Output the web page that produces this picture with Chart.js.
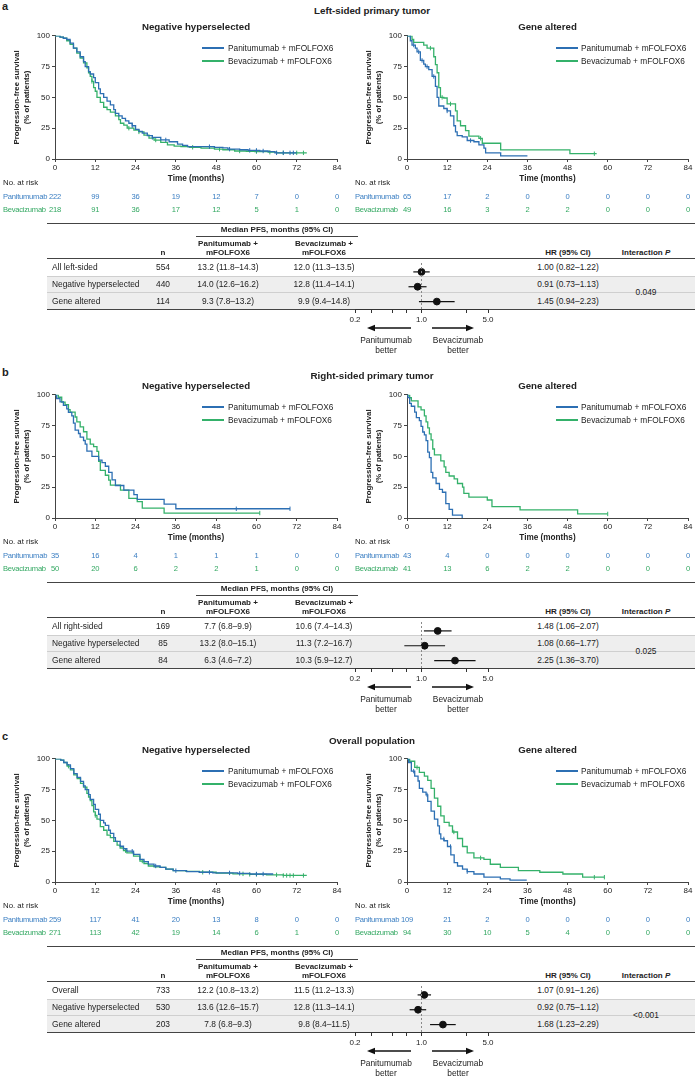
<!DOCTYPE html>
<html>
<head>
<meta charset="utf-8">
<script src="https://cdn.jsdelivr.net/npm/chart.js@4.4.1/dist/chart.umd.min.js"></script>
<style>
  body { margin: 0; background: #fff; }
  #fig { position: relative; width: 699px; height: 1086px; overflow: hidden; font-family: "Liberation Sans", Arial, sans-serif; color: #222; }
  #fig canvas { position: absolute; }
  .t { position: absolute; white-space: nowrap; font-size: 8.4px; line-height: 1; }
  .r { position: absolute; }
  .risk { letter-spacing: -0.25px; }
</style>
</head>
<body>
<div id="fig"></div>
<script>
// ---------- data ----------
const timeTicks = [0, 12, 24, 36, 48, 60, 72, 84];
const survTicks = [0, 25, 50, 75, 100];
const forestTicks = [0.2, 0.3, 0.5, 0.7, 1, 3, 5];
const forestTickLabels = ['0.2', '', '', '', '1.0', '', '5.0'];
const legendLabels = ['Panitumumab + mFOLFOX6', 'Bevacizumab + mFOLFOX6'];
const riskLabels = ['Panitumumab', 'Bevacizumab'];

// a - left-sided, negative hyperselected
const aNegPanT = [0, 1.5, 2.5, 3.5, 4.5, 5.5, 6.5, 7.5, 8.5, 9, 10, 10.5, 11.5, 12, 13, 13.5, 14.5, 15.5, 16.5, 17.5, 18, 19, 20, 21, 22, 23, 24, 25, 26, 27.5, 29, 31.5, 34, 36.5, 38, 39.5, 47.5, 50, 51.5, 55, 57.5, 61, 63.5, 65.5, 72];
const aNegPanS = [100, 99, 98, 97, 94, 90, 87, 83, 79, 75, 71, 69, 66, 62, 57, 53, 50, 47, 44, 40, 37, 35, 33, 31, 29, 27, 24, 22.5, 21, 19, 17.5, 15.5, 14, 12, 11, 10, 9.5, 9, 8, 7.5, 7, 6.5, 6, 5, 5];
const aNegPanC = [23, 29, 33, 46, 52, 58, 60, 62, 66, 68, 70, 71];
const aNegBevT = [0, 1.5, 2.5, 3.5, 4.5, 5.5, 6.5, 7.5, 8.5, 9.5, 10, 10.5, 11, 11.5, 12, 12.5, 13.5, 14.5, 15.5, 16.5, 18, 19, 19.5, 20.5, 21.5, 23.5, 25, 26.5, 28, 29.5, 31.5, 33.5, 35.5, 37.5, 40, 43.5, 47.5, 50, 53.5, 57, 59.5, 63.5, 66, 75];
const aNegBevS = [100, 99, 98, 96, 93, 90, 86, 82, 78, 74, 70, 67, 63, 58, 55, 50, 46, 42, 40, 38, 35, 32, 29, 27.5, 25, 23.4, 22, 19.4, 17, 15.4, 13.5, 11.4, 10.5, 10, 9.5, 8.8, 8, 7.5, 6.5, 6.2, 6, 5.5, 5, 5];
const aNegBevC = [11, 22, 25, 30, 41, 49, 55, 60, 64, 68, 72, 74];
const aNegPanRisk = [222, 99, 36, 19, 12, 7, 0, 0];
const aNegBevRisk = [218, 91, 36, 17, 12, 5, 1, 0];

// a - left-sided, gene altered
const aGenPanT = [0, 1, 1.5, 2.5, 3, 4, 5, 5.5, 6.5, 7.5, 8.5, 9, 9.5, 11, 12, 13, 14, 14.5, 15, 16.5, 18, 20, 21.5, 23, 23.5, 28, 36];
const aGenPanS = [100, 96, 92.5, 90, 87, 80, 77, 75, 72.5, 67, 59, 50, 43, 41, 39, 35, 27, 22, 19, 18, 15, 14, 11.4, 8.8, 5, 2.5, 2.5];
const aGenPanC = [2, 3.5, 4.5, 6, 8, 12, 19];
const aGenBevT = [0, 1.5, 2, 5, 6, 8, 8.5, 9, 9.5, 10, 11, 12, 14.5, 15, 16, 17.5, 18.5, 21.5, 22.5, 28, 48.7, 56.7];
const aGenBevS = [100, 97, 94.7, 92.5, 90, 83, 76.6, 70, 58, 50, 49.5, 44.7, 39, 31, 27, 23, 18.6, 16.8, 12.8, 7.4, 4.3, 4.3];
const aGenBevC = [1, 7, 10.5, 13, 22, 56];
const aGenPanRisk = [65, 17, 2, 0, 0, 0, 0, 0];
const aGenBevRisk = [49, 16, 3, 2, 2, 0, 0, 0];

// a - forest table
const aRows = ['All left-sided', 'Negative hyperselected', 'Gene altered'];
const aN = [554, 440, 114];
const aPanMed = ['13.2 (11.8–14.3)', '14.0 (12.6–16.2)', '9.3 (7.8–13.2)'];
const aBevMed = ['12.0 (11.3–13.5)', '12.8 (11.4–14.1)', '9.9 (9.4–14.8)'];
const aHR = [1.00, 0.91, 1.45];
const aLo = [0.82, 0.73, 0.94];
const aHi = [1.22, 1.13, 2.23];
const aP = '0.049';

// b - right-sided, negative hyperselected
const bNegPanT = [0, 0.5, 1.5, 2.5, 3.5, 4, 5, 5.5, 6, 7, 7.5, 8.5, 9, 9.5, 11, 13, 14, 15, 16, 17, 18, 20.5, 23.5, 24.5, 32.5, 36, 70];
const bNegPanS = [100, 97, 94.3, 91.4, 88.6, 85.7, 82.9, 77, 71.4, 68.6, 65.7, 62.9, 60, 54.3, 50, 47, 45, 42, 37, 31, 26.4, 22.6, 18.9, 15.1, 11.3, 7.5, 7.5];
const bNegPanC = [54, 70];
const bNegBevT = [0, 1, 2, 3, 4, 4.5, 6, 6.5, 7.5, 8.5, 9.5, 10.5, 11.5, 12.5, 13, 13.5, 15, 16, 16.5, 19.5, 22, 24.5, 26, 32.5, 61];
const bNegBevS = [100, 98, 94, 92, 88, 86, 82, 78, 74, 70, 64, 60, 58, 54, 46, 38.7, 34.7, 30.7, 26.7, 22.7, 16, 13.3, 8, 4, 4];
const bNegBevC = [61];
const bNegPanRisk = [35, 16, 4, 1, 1, 1, 0, 0];
const bNegBevRisk = [50, 20, 6, 2, 2, 1, 0, 0];

// b - right-sided, gene altered
const bGenPanT = [0, 0.3, 0.8, 1.3, 2.3, 2.8, 3.7, 4.2, 4.7, 5.2, 5.7, 6.2, 6.7, 7.2, 7.7, 8.7, 9.7, 10.6, 11.6, 12.6, 13.6, 16.5];
const bGenPanS = [100, 97.7, 93, 90.7, 86, 81.4, 79, 74.4, 69.8, 67.4, 62.8, 53.5, 49, 37, 32.6, 28, 23.3, 20.9, 11.6, 7, 2.3, 0];
const bGenPanC = [];
const bGenBevT = [0, 0.8, 1.3, 3.3, 4.2, 5.2, 5.7, 6.2, 6.7, 7.2, 7.7, 8.2, 10.1, 11.1, 11.6, 12.6, 14.1, 15.1, 16.6, 17, 18.5, 24, 25.4, 33.8, 51, 60];
const bGenBevS = [100, 97.6, 95, 90.2, 87.8, 82.9, 78, 73.2, 68.3, 63.4, 56, 51.2, 46.3, 41.5, 37, 34.1, 31.7, 28, 25, 20, 17, 14.6, 9.3, 6.6, 3.3, 3.3];
const bGenBevC = [60];
const bGenPanRisk = [43, 4, 0, 0, 0, 0, 0, 0];
const bGenBevRisk = [41, 13, 6, 2, 2, 0, 0, 0];

// b - forest table
const bRows = ['All right-sided', 'Negative hyperselected', 'Gene altered'];
const bN = [169, 85, 84];
const bPanMed = ['7.7 (6.8–9.9)', '13.2 (8.0–15.1)', '6.3 (4.6–7.2)'];
const bBevMed = ['10.6 (7.4–14.3)', '11.3 (7.2–16.7)', '10.3 (5.9–12.7)'];
const bHR = [1.48, 1.08, 2.25];
const bLo = [1.06, 0.66, 1.36];
const bHi = [2.07, 1.77, 3.70];
const bP = '0.025';

// c - overall, negative hyperselected
const cNegPanT = [0, 1.7, 2.6, 3.6, 4.6, 5.6, 6.6, 7.6, 8.5, 9, 10, 10.5, 11.5, 12, 13, 13.5, 14.5, 15, 16, 16.5, 17.5, 18, 19.4, 20.4, 21.4, 23.4, 25.3, 26.5, 27.8, 29.5, 31.3, 33, 35.2, 39.2, 43, 47, 54.4, 58, 65];
const cNegPanS = [100, 99, 97, 95, 92, 88, 85, 81.6, 78, 75, 71, 67, 63, 59, 55, 50, 48, 46, 42, 39.5, 36, 33, 29, 27, 25, 22.4, 18.4, 16.5, 14.5, 13, 11.8, 10.5, 9.2, 8.4, 7.9, 7.4, 7, 6.5, 6.5];
const cNegPanC = [23, 30, 36, 46, 52, 55, 60, 62];
const cNegBevT = [0, 1.7, 2.6, 3.6, 4.6, 5.6, 6.6, 7.6, 8.5, 9.5, 10, 10.5, 11, 11.5, 12, 12.5, 13.5, 14.5, 15.5, 16.5, 17.5, 18.5, 19.4, 20.4, 21.4, 23.4, 25.3, 26.5, 27.8, 29.5, 31.3, 33, 35.2, 39, 43, 48, 53, 58, 63, 68, 75];
const cNegBevS = [100, 99, 97, 94, 91, 87, 84, 80, 77, 72, 69, 66, 62, 57, 54, 51, 45, 42, 38, 36, 33, 30, 27.6, 25.5, 23.7, 21, 17, 15, 13, 12.3, 11.8, 10.5, 9.2, 8.6, 7.9, 7.2, 6.6, 6.2, 5.8, 5.3, 5.3];
const cNegBevC = [4, 12, 21, 26, 44, 56, 58, 60, 66, 68, 69, 70, 71, 74];
const cNegPanRisk = [259, 117, 41, 20, 13, 8, 0, 0];
const cNegBevRisk = [271, 113, 42, 19, 14, 6, 1, 0];

// c - overall, gene altered
const cGenPanT = [0, 0.5, 1.3, 2.3, 3.3, 3.7, 4.7, 5.7, 6.2, 7.2, 8.2, 9.2, 9.7, 10.1, 11.1, 12.1, 13.1, 14.1, 15.1, 16.6, 18, 20, 23, 27.9, 30.8, 35.8];
const cGenPanS = [100, 97, 90, 86, 82, 76, 73, 70.7, 65.4, 57.6, 51, 45.5, 39, 35, 33.5, 28.8, 22, 15.7, 13, 10.5, 8.4, 6.5, 3.9, 2.6, 1.6, 1.6];
const cGenPanC = [2, 6, 11, 13, 18];
const cGenBevT = [0, 0.8, 2.3, 3.7, 5.2, 6.2, 7.2, 8.2, 9.2, 10.1, 11.1, 12.6, 13.6, 15.1, 16.6, 18, 20, 23, 24.9, 27.9, 33.3, 39.7, 46.6, 52.5, 59];
const cGenBevS = [100, 98, 93, 89, 86, 82.5, 76, 68, 61.5, 53.7, 48.4, 45.5, 40.6, 35.3, 28.8, 23.6, 19.6, 18.3, 14.4, 11.8, 9.2, 7.9, 6.5, 3.9, 3.9];
const cGenBevC = [3, 14, 22, 56, 59];
const cGenPanRisk = [109, 21, 2, 0, 0, 0, 0, 0];
const cGenBevRisk = [94, 30, 10, 5, 4, 0, 0, 0];

// c - forest table
const cRows = ['Overall', 'Negative hyperselected', 'Gene altered'];
const cN = [733, 530, 203];
const cPanMed = ['12.2 (10.8–13.2)', '13.6 (12.6–15.7)', '7.8 (6.8–9.3)'];
const cBevMed = ['11.5 (11.2–13.3)', '12.8 (11.3–14.1)', '9.8 (8.4–11.5)'];
const cHR = [1.07, 0.92, 1.68];
const cLo = [0.91, 0.75, 1.23];
const cHi = [1.26, 1.12, 2.29];
const cP = '<0.001';

// ---------- drawing ----------
const BLUE = '#2c6fb3';
const GREEN = '#34b16a';
const BLUE_TXT = '#3a7ec2';
const GREEN_TXT = '#33a862';
const AXIS = '#444';
const fig = document.getElementById('fig');

function txt(x, y, s, o = {}) {
  const d = document.createElement('div');
  d.className = 't' + (o.cls ? ' ' + o.cls : '');
  d.innerHTML = s;
  const al = o.align || 'left';
  const tx = al === 'center' ? '-50%' : al === 'right' ? '-100%' : '0';
  d.style.left = x + 'px';
  d.style.top = y + 'px';
  d.style.transform = `translate(${tx}, -50%)`;
  if (o.size) d.style.fontSize = o.size + 'px';
  if (o.bold) d.style.fontWeight = 'bold';
  if (o.color) d.style.color = o.color;
  fig.appendChild(d);
  return d;
}

function rect(x, y, w, h, bg) {
  const d = document.createElement('div');
  d.className = 'r';
  Object.assign(d.style, { left: x + 'px', top: y + 'px', width: w + 'px', height: h + 'px', background: bg });
  fig.appendChild(d);
}

function survAt(T, S, t) {
  let v = S[0];
  for (let i = 0; i < T.length; i++) if (T[i] <= t) v = S[i];
  return v;
}

function kmChart(left, width, top, title, pan, bev) {
  const c = document.createElement('canvas');
  c.width = width;
  c.height = 155;
  c.style.left = left + 'px';
  c.style.top = (top - 5) + 'px';
  fig.appendChild(c);

  const datasets = [];
  [[pan, BLUE], [bev, GREEN]].forEach(([cv, col]) => {
    datasets.push({
      type: 'line',
      data: cv.t.map((t, i) => ({ x: t, y: cv.s[i] })),
      borderColor: col, borderWidth: 1.3, stepped: true, pointRadius: 0, fill: false
    });
    datasets.push({
      type: 'scatter',
      data: cv.c.map(t => ({ x: t, y: survAt(cv.t, cv.s, t) })),
      pointStyle: 'line', rotation: 90, pointRadius: 2.2, borderColor: col, borderWidth: 1
    });
  });

  const chart = new Chart(c, {
    type: 'scatter',
    data: { datasets },
    options: {
      responsive: false, animation: false, devicePixelRatio: 1,
      layout: { padding: { top: 5, right: 8, left: 0, bottom: 0 } },
      plugins: { legend: { display: false }, tooltip: { enabled: false } },
      scales: {
        x: {
          type: 'linear', min: 0, max: 84,
          afterBuildTicks: s => { s.ticks = timeTicks.map(v => ({ value: v })); },
          afterFit: s => { s.height = 25; },
          grid: { drawOnChartArea: false, tickLength: 3, color: AXIS },
          border: { color: AXIS },
          ticks: { font: { size: 8, family: 'Liberation Sans' }, color: '#222', padding: 1, maxRotation: 0, autoSkip: false },
          title: { display: true, text: 'Time (months)', color: '#222', padding: 0, font: { size: 8.2, weight: 'bold', family: 'Liberation Sans', lineHeight: 1.2 } }
        },
        y: {
          min: 0, max: 100,
          afterBuildTicks: s => { s.ticks = survTicks.map(v => ({ value: v })); },
          afterFit: s => { s.width = 55; },
          grid: { drawOnChartArea: false, tickLength: 3, color: AXIS },
          border: { color: AXIS },
          ticks: { font: { size: 8, family: 'Liberation Sans' }, color: '#222', padding: 2 },
          title: { display: true, text: ['Progression-free survival', '(% of patients)'], color: '#222', padding: { top: 12, bottom: 0 }, font: { size: 7.8, weight: 'bold', family: 'Liberation Sans', lineHeight: 1.3 } }
        }
      }
    }
  });

  const xs = chart.scales.x;
  const plotMid = left + (xs.left + xs.right) / 2;
  txt(plotMid, top - 7, title, { align: 'center', bold: true, size: 9.7 });
  return chart;
}

function legend(lineX, textX, top) {
  [BLUE, GREEN].forEach((col, i) => {
    const y = top + 14 + i * 13;
    rect(lineX, y - 0.7, 22, 1.4, col);
    txt(textX, y, legendLabels[i], { size: 8.3 });
  });
}

function atRisk(chart, canvasLeft, labelX, B, panRisk, bevRisk) {
  txt(labelX, B + 24, 'No. at risk', { size: 7.8 });
  [[panRisk, BLUE_TXT], [bevRisk, GREEN_TXT]].forEach(([vals, col], k) => {
    const y = B + 38 + k * 13;
    txt(labelX, y, riskLabels[k], { size: 7.6, color: col, cls: 'risk' });
    vals.forEach((v, i) => {
      const x = canvasLeft + chart.scales.x.getPixelForValue(timeTicks[i]);
      txt(x, y, String(v), { size: 7.6, color: col, align: 'center', cls: 'risk' });
    });
  });
}

function forest(B, rows, n, panMed, bevMed, hr, lo, hi, p) {
  const L = 47, W = 648;
  // lines + shading
  rect(L, B + 117, W, 33, '#eeeeee');
  rect(L, B + 64, W, 1, '#444');
  rect(196, B + 77, 162, 1, '#444');
  rect(L, B + 99, W, 1, '#444');
  rect(L, B + 117, W, 1, '#cfcfcf');
  rect(L, B + 133, W, 1, '#cfcfcf');
  rect(L, B + 150, W, 1, '#444');

  txt(277, B + 71, 'Median PFS, months (95% CI)', { align: 'center', bold: true, size: 8 });
  txt(228, B + 85, 'Panitumumab +', { align: 'center', bold: true, size: 8 });
  txt(228, B + 94, 'mFOLFOX6', { align: 'center', bold: true, size: 8 });
  txt(324, B + 85, 'Bevacizumab +', { align: 'center', bold: true, size: 8 });
  txt(324, B + 94, 'mFOLFOX6', { align: 'center', bold: true, size: 8 });
  txt(163, B + 94, 'n', { align: 'center', bold: true, size: 8 });
  txt(568, B + 94, 'HR (95% CI)', { align: 'center', bold: true, size: 8 });
  txt(646, B + 94, 'Interaction <i>P</i>', { align: 'center', bold: true, size: 8 });

  const rowY = [B + 108, B + 125, B + 141.5];
  rows.forEach((r, i) => {
    txt(52, rowY[i], r);
    txt(163, rowY[i], String(n[i]), { align: 'center' });
    txt(228, rowY[i], panMed[i], { align: 'center' });
    txt(324, rowY[i], bevMed[i], { align: 'center' });
    txt(568, rowY[i], `${hr[i].toFixed(2)} (${lo[i].toFixed(2)}–${hi[i].toFixed(2)})`, { align: 'center' });
  });
  txt(646, B + 133, p.replace('<', '&lt;'), { align: 'center' });

  // forest plot canvas
  const c = document.createElement('canvas');
  c.width = 153;
  c.height = 71;
  c.style.left = '345px';
  c.style.top = (B + 99) + 'px';
  fig.appendChild(c);
  const datasets = [
    { type: 'line', data: [{ x: 1, y: -0.6 }, { x: 1, y: 2.5 }], borderColor: '#8a8a8a', borderWidth: 1, borderDash: [2, 2], pointRadius: 0 }
  ];
  hr.forEach((v, i) => {
    datasets.push({ type: 'line', data: [{ x: lo[i], y: i }, { x: hi[i], y: i }], borderColor: '#111', borderWidth: 1.2, pointRadius: 0 });
  });
  datasets.push({ type: 'scatter', data: hr.map((v, i) => ({ x: v, y: i })), pointRadius: 3.4, backgroundColor: '#111', borderColor: '#111' });

  new Chart(c, {
    type: 'scatter',
    data: { datasets },
    options: {
      responsive: false, animation: false, devicePixelRatio: 1,
      layout: { padding: { left: 10, right: 10, top: 0, bottom: 0 } },
      plugins: { legend: { display: false }, tooltip: { enabled: false } },
      scales: {
        x: {
          type: 'logarithmic', min: 0.2, max: 5,
          afterBuildTicks: s => { s.ticks = forestTicks.map(v => ({ value: v })); },
          afterFit: s => { s.height = 20; },
          grid: { drawOnChartArea: false, tickLength: 4, color: '#333' },
          border: { color: '#333' },
          ticks: { callback: (v, i) => forestTickLabels[i], font: { size: 8, family: 'Liberation Sans' }, color: '#222', padding: 2, maxRotation: 0, autoSkip: false }
        },
        y: { display: false, min: -0.6, max: 2.5, reverse: true }
      }
    }
  });

  // arrows
  const ns = 'http://www.w3.org/2000/svg';
  const svg = document.createElementNS(ns, 'svg');
  svg.setAttribute('width', 140);
  svg.setAttribute('height', 12);
  Object.assign(svg.style, { position: 'absolute', left: '355px', top: (B + 163) + 'px' });
  svg.innerHTML =
    '<line x1="56" y1="6" x2="18" y2="6" stroke="#111" stroke-width="1.6"/>' +
    '<polygon points="12,6 20,2.8 20,9.2" fill="#111"/>' +
    '<line x1="77" y1="6" x2="113" y2="6" stroke="#111" stroke-width="1.6"/>' +
    '<polygon points="119,6 111,2.8 111,9.2" fill="#111"/>';
  fig.appendChild(svg);
  txt(386, B + 181, 'Panitumumab', { align: 'center' });
  txt(386, B + 191, 'better', { align: 'center' });
  txt(458, B + 181, 'Bevacizumab', { align: 'center' });
  txt(458, B + 191, 'better', { align: 'center' });
}

const panels = [
  {
    letter: 'a', title: 'Left-sided primary tumor', letterY: 6, titleY: 11, top: 34,
    neg: { pan: { t: aNegPanT, s: aNegPanS, c: aNegPanC }, bev: { t: aNegBevT, s: aNegBevS, c: aNegBevC }, risk: [aNegPanRisk, aNegBevRisk] },
    gen: { pan: { t: aGenPanT, s: aGenPanS, c: aGenPanC }, bev: { t: aGenBevT, s: aGenBevS, c: aGenBevC }, risk: [aGenPanRisk, aGenBevRisk] },
    table: [aRows, aN, aPanMed, aBevMed, aHR, aLo, aHi, aP]
  },
  {
    letter: 'b', title: 'Right-sided primary tumor', letterY: 372, titleY: 376, top: 393,
    neg: { pan: { t: bNegPanT, s: bNegPanS, c: bNegPanC }, bev: { t: bNegBevT, s: bNegBevS, c: bNegBevC }, risk: [bNegPanRisk, bNegBevRisk] },
    gen: { pan: { t: bGenPanT, s: bGenPanS, c: bGenPanC }, bev: { t: bGenBevT, s: bGenBevS, c: bGenBevC }, risk: [bGenPanRisk, bGenBevRisk] },
    table: [bRows, bN, bPanMed, bBevMed, bHR, bLo, bHi, bP]
  },
  {
    letter: 'c', title: 'Overall population', letterY: 736, titleY: 741, top: 757,
    neg: { pan: { t: cNegPanT, s: cNegPanS, c: cNegPanC }, bev: { t: cNegBevT, s: cNegBevS, c: cNegBevC }, risk: [cNegPanRisk, cNegBevRisk] },
    gen: { pan: { t: cGenPanT, s: cGenPanS, c: cGenPanC }, bev: { t: cGenBevT, s: cGenBevS, c: cGenBevC }, risk: [cGenPanRisk, cGenBevRisk] },
    table: [cRows, cN, cPanMed, cBevMed, cHR, cLo, cHi, cP]
  }
];

panels.forEach(p => {
  const B = p.top + 125;
  txt(2, p.letterY, p.letter, { bold: true, size: 11 });
  txt(372, p.titleY, p.title, { align: 'center', bold: true, size: 9.8 });

  const left = kmChart(0, 345, p.top, 'Negative hyperselected', p.neg.pan, p.neg.bev);
  legend(202, 228, p.top);
  atRisk(left, 0, 3, B, p.neg.risk[0], p.neg.risk[1]);

  const right = kmChart(352, 344, p.top, 'Gene altered', p.gen.pan, p.gen.bev);
  legend(556, 581, p.top);
  atRisk(right, 352, 355, B, p.gen.risk[0], p.gen.risk[1]);

  forest(B, ...p.table);
});
</script>
</body>
</html>
